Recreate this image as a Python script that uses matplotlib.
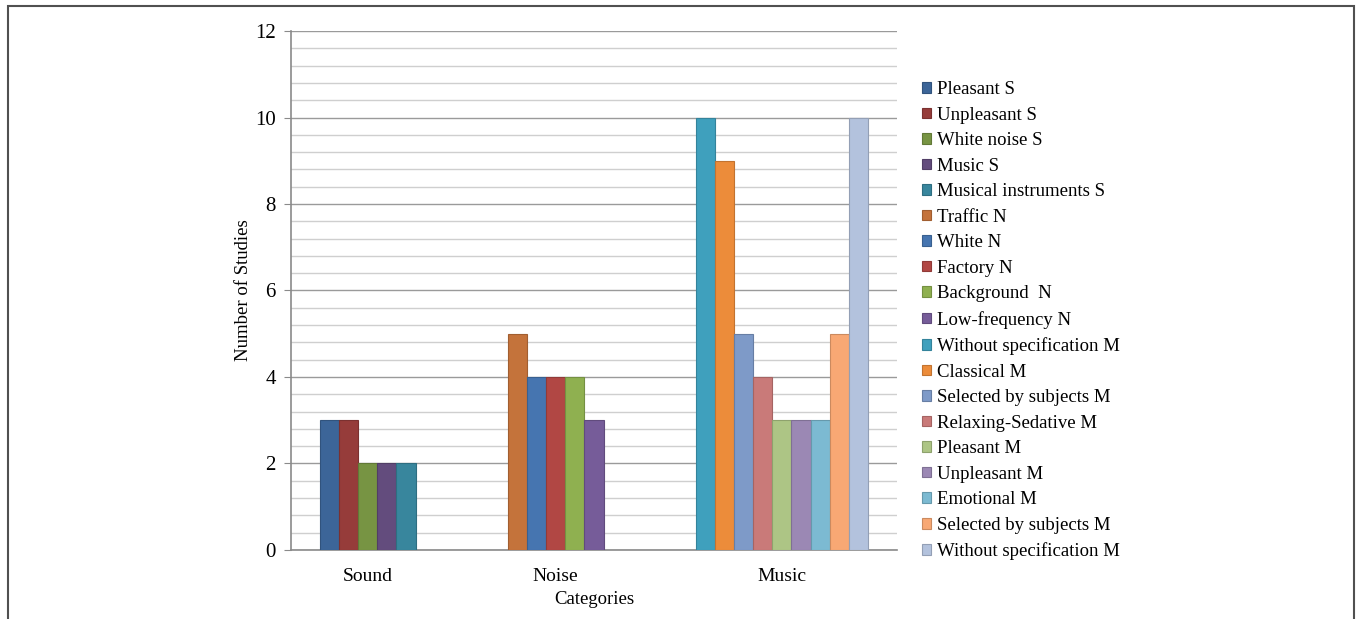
import matplotlib as mpl
import matplotlib.pyplot as plt
import numpy as np
from matplotlib.patches import Rectangle, Patch
from matplotlib.ticker import MultipleLocator

mpl.rcParams["font.family"] = ["Liberation Serif", "DejaVu Serif"]

categories = ["Sound", "Noise", "Music"]

sound_labels = ["Pleasant S", "Unpleasant S", "White noise S", "Music S", "Musical instruments S"]
sound_values = [3, 3, 2, 2, 2]
sound_colors = ["#3c6598", "#963c3a", "#779443", "#634c7d", "#38869d"]

noise_labels = ["Traffic N", "White N", "Factory N", "Background  N", "Low-frequency N"]
noise_values = [5, 4, 4, 4, 3]
noise_colors = ["#c4733b", "#4675b0", "#b14744", "#8fb050", "#765c99"]

music_labels = [
    "Without specification M", "Classical M", "Selected by subjects M",
    "Relaxing-Sedative M", "Pleasant M", "Unpleasant M", "Emotional M",
    "Selected by subjects M", "Without specification M",
]
music_values = [10, 9, 5, 4, 3, 3, 3, 5, 10]
music_colors = ["#3fa0bd", "#ec8c3a", "#7e9ac8", "#c97a79", "#adc585",
                "#9b88b4", "#7cbad2", "#f8a874", "#b3c2dd"]

groups = [
    (sound_labels, sound_values, sound_colors),
    (noise_labels, noise_values, noise_colors),
    (music_labels, music_values, music_colors),
]


def darker(c, f=0.82):
    r, g, b = mpl.colors.to_rgb(c)
    return (r * f, g * f, b * f)


fig = plt.figure(figsize=(13.57, 6.19), dpi=100)
ax = fig.add_axes([0.2144, 0.1115, 0.4466, 0.8384])

gap = 4.8  # empty space between category groups, in bar widths
margin = 1.5
pos = margin
handles = []
centers = []
for labels, values, colors in groups:
    xs = pos + np.arange(len(values)) + 0.5
    ax.bar(xs, values, width=1.0, color=colors,
           edgecolor=[darker(c) for c in colors], linewidth=0.8, zorder=3)
    centers.append(xs.mean())
    for lab, col in zip(labels, colors):
        handles.append(Patch(facecolor=col, edgecolor=darker(col), linewidth=0.8, label=lab))
    pos += len(values) + gap
pos -= gap

ax.set_xlim(0, pos + margin)
ax.set_ylim(0, 12)
ax.yaxis.set_major_locator(MultipleLocator(2))
ax.yaxis.set_minor_locator(MultipleLocator(0.4))
ax.grid(axis="y", which="major", color="#9a9a9a", linewidth=1.0, zorder=0)
ax.grid(axis="y", which="minor", color="#cfcfcf", linewidth=1.0, zorder=0)
ax.set_axisbelow(True)

ax.set_xticks(centers)
ax.set_xticklabels(categories, fontsize=14)
ax.tick_params(axis="x", length=0, pad=13)
ax.tick_params(axis="y", which="major", length=5, color="#8a8a8a", labelsize=15, pad=6)
ax.tick_params(axis="y", which="minor", length=0)

for s in ["top", "right"]:
    ax.spines[s].set_visible(False)
for s in ["left", "bottom"]:
    ax.spines[s].set_color("#8a8a8a")
    ax.spines[s].set_linewidth(1.2)

ax.set_ylabel("Number of Studies", fontsize=13.5)
ax.yaxis.set_label_coords(-0.065, 0.5)
ax.set_xlabel("Categories", fontsize=13.5)
ax.xaxis.set_label_coords(0.50, -0.079)

ax.legend(handles=handles, loc="upper left", bbox_to_anchor=(0.6795, 0.869),
          bbox_transform=fig.transFigure, frameon=False, fontsize=13.5,
          handlelength=0.5, handleheight=0.5, handletextpad=0.3,
          labelspacing=0.455, borderaxespad=0, borderpad=0)

frame = Rectangle((8 / 1357, -0.05), 1346 / 1357, 1.05 - 6 / 619,
                  transform=fig.transFigure, fill=False, edgecolor="#505050",
                  linewidth=1.5, clip_on=False)
fig.patches.append(frame)

fig.savefig("out.png", dpi=100)
